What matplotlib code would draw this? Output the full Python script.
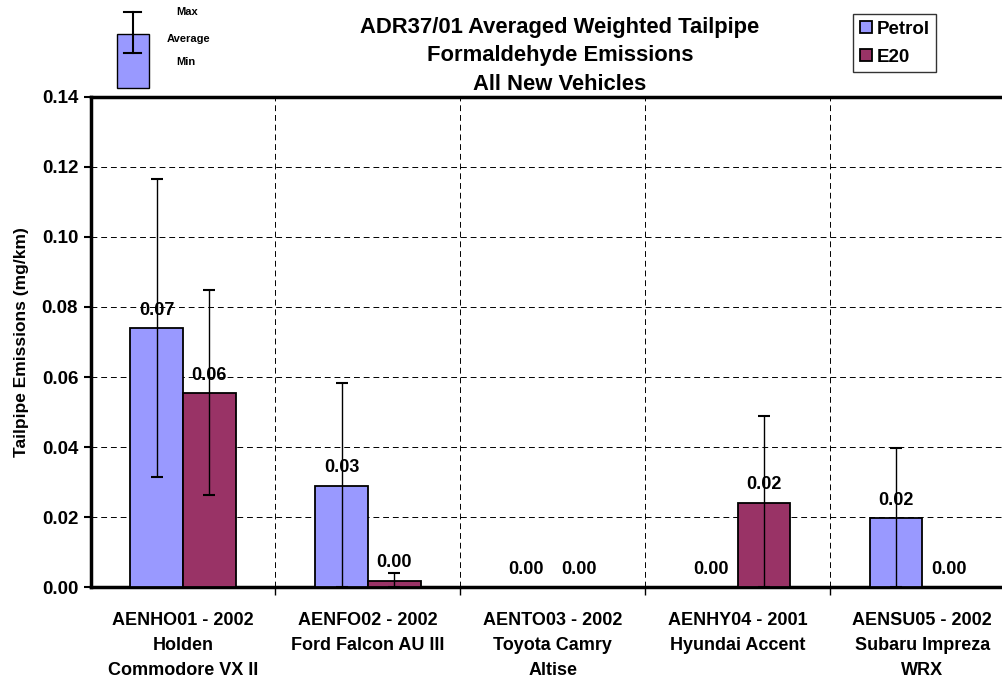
import numpy as np
import matplotlib.pyplot as plt
from matplotlib.patches import Rectangle

plt.rcParams['font.family'] = 'Liberation Sans'
plt.rcParams['font.weight'] = 'bold'

# Data (mg/km)
vehicles = ['AENHO01 - 2002\nHolden\nCommodore VX II',
            'AENFO02 - 2002\nFord Falcon AU III',
            'AENTO03 - 2002\nToyota Camry\nAltise',
            'AENHY04 - 2001\nHyundai Accent',
            'AENSU05 - 2002\nSubaru Impreza\nWRX']
petrol_avg = [0.0739, 0.0290, 0.0, 0.0, 0.0197]
petrol_max = [0.1164, 0.0582, np.nan, np.nan, 0.0397]
petrol_min = [0.0316, 0.0, np.nan, np.nan, 0.0]
e20_avg = [0.0554, 0.0019, 0.0, 0.0242, 0.0]
e20_max = [0.0847, 0.0040, np.nan, 0.0488, np.nan]
e20_min = [0.0263, 0.0, np.nan, 0.0, np.nan]

petrol_col = '#9999FF'
e20_col = '#993366'

fig = plt.figure(figsize=(10.03, 6.79), dpi=100)
ax = fig.add_axes([0.0904, 0.135, 0.9213, 0.7226])

x = np.arange(len(vehicles))
w = 0.285

series = [
    (x - w / 2, petrol_avg, petrol_max, petrol_min, petrol_col, 'Petrol'),
    (x + w / 2, e20_avg, e20_max, e20_min, e20_col, 'E20'),
]
for xs, avg, mx, mn, col, lab in series:
    avg = np.array(avg)
    ax.bar(xs, avg, w, color=col, edgecolor='black', linewidth=1.3,
           label=lab, zorder=3)
    lo = avg - np.array(mn)
    hi = np.array(mx) - avg
    ax.errorbar(xs, avg, yerr=[lo, hi], fmt='none', ecolor='black',
                elinewidth=1.0, capsize=4.5, capthick=1.5, zorder=4)
    for xi, v in zip(xs, avg):
        ax.annotate('{:.2f}'.format(v), (xi, v), xytext=(0, 13),
                    textcoords='offset points', ha='center', va='center',
                    fontsize=13, fontweight='bold', zorder=5)

ax.set_xlim(-0.5, 4.5)
ax.set_ylim(0, 0.14)
yt = np.arange(0, 0.141, 0.02)
ax.set_yticks(yt)
ax.set_yticklabels(['{:.2f}'.format(t) for t in yt])
ax.set_xticks(x)
ax.set_xticklabels(vehicles, fontsize=13, fontweight='bold', linespacing=1.6)
ax.set_xticks(np.arange(0.5, 4.5, 1), minor=True)
ax.tick_params(axis='x', which='major', length=0, pad=18)
ax.tick_params(axis='x', which='minor', length=6, width=1, direction='out')
ax.tick_params(axis='y', length=5, width=1.5, labelsize=13.5, pad=4)
for t in ax.get_yticklabels():
    t.set_fontweight('bold')

ax.grid(True, axis='y', which='major', color='black', linestyle=(0, (6, 4)),
        linewidth=0.7, zorder=0)
ax.grid(True, axis='x', which='minor', color='black', linestyle=(0, (6, 4)),
        linewidth=0.7, zorder=0)
for s in ax.spines.values():
    s.set_linewidth(2.5)
ax.spines['right'].set_visible(False)

ax.set_ylabel('Tailpipe Emissions (mg/km)', fontsize=12.5, fontweight='bold',
              labelpad=9)

fig.text(0.5583, 1 - 56 / 679,
         'ADR37/01 Averaged Weighted Tailpipe\nFormaldehyde Emissions\nAll New Vehicles',
         ha='center', va='center', fontsize=15.8, fontweight='bold', linespacing=1.45)

ax.legend(loc='upper left', bbox_to_anchor=(853 / 1003, 1 - 14 / 679),
          bbox_transform=fig.transFigure,
          frameon=True, fancybox=False, edgecolor='black',
          prop={'weight': 'bold', 'size': 13.5},
          handlelength=0.65, handleheight=0.65, handletextpad=0.25,
          borderpad=0.35, labelspacing=0.6, borderaxespad=0)

# key for the error bars (top left)
fw, fh = 1003, 679
fig.patches.append(Rectangle((117 / fw, 1 - 88 / fh), 32 / fw, 54 / fh,
                             transform=fig.transFigure, facecolor=petrol_col,
                             edgecolor='black', linewidth=1))
fig.add_artist(plt.Line2D([133 / fw, 133 / fw], [1 - 12 / fh, 1 - 53 / fh],
                          transform=fig.transFigure, color='black', linewidth=1.5))
for yy in (12, 53):
    fig.add_artist(plt.Line2D([124 / fw, 141 / fw], [1 - yy / fh, 1 - yy / fh],
                              transform=fig.transFigure, color='black', linewidth=1.5))
fig.text(187 / fw, 1 - 12 / fh, 'Max', ha='center', va='center', fontsize=8, fontweight='bold')
fig.text(189 / fw, 1 - 39 / fh, 'Average', ha='center', va='center', fontsize=8, fontweight='bold')
fig.text(186 / fw, 1 - 62 / fh, 'Min', ha='center', va='center', fontsize=8, fontweight='bold')

plt.savefig('out.png', dpi=100)
